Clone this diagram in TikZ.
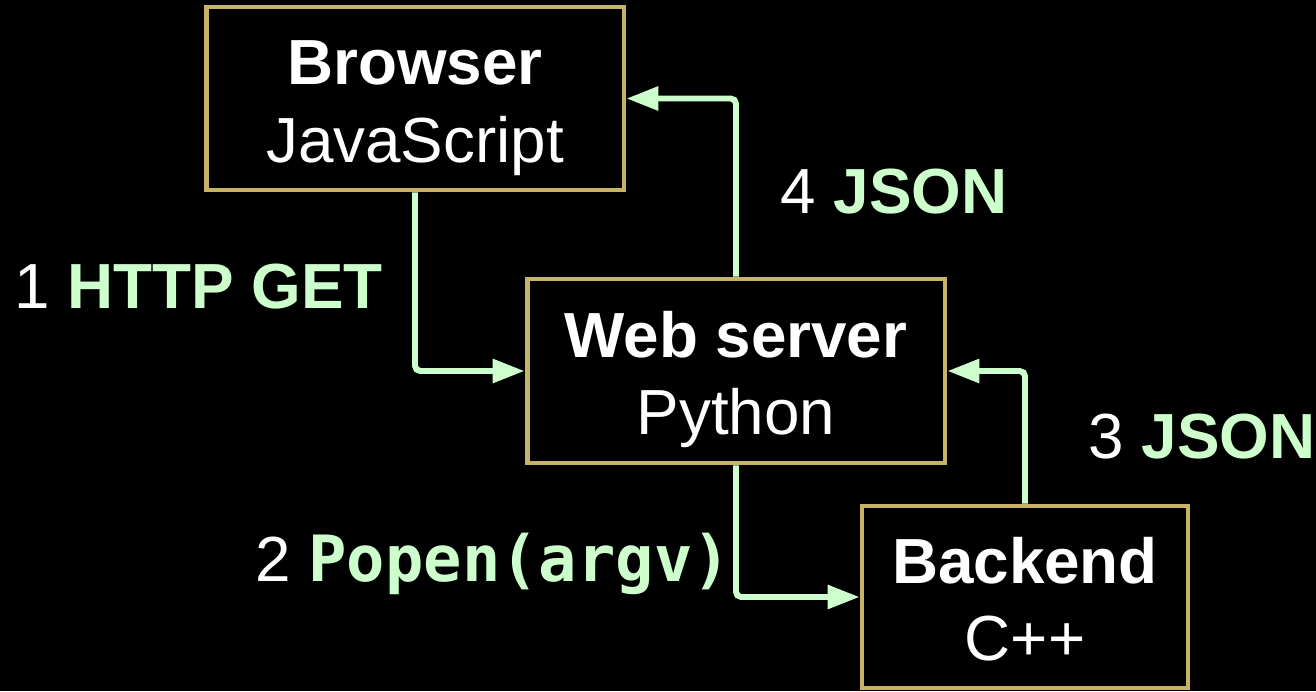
\documentclass[tikz,border=0pt]{standalone}
\usepackage{fontspec}
\setmainfont{Liberation Sans}
\setmonofont{DejaVu Sans Mono}
\usetikzlibrary{arrows.meta}
\definecolor{boxgold}{RGB}{200,178,100}
\definecolor{flowgreen}{RGB}{204,255,204}

\begin{document}
\begin{tikzpicture}[x=0.02cm, y=-0.02cm,
    every node/.style={font=\fontsize{36.3}{44}\selectfont, text=white},
    tier/.style={draw=boxgold, fill=black, line width=2.8pt, align=center, inner sep=0pt,
      text height=80.4pt, text depth=8pt},
    flow/.style={draw=flowgreen, line width=3.4pt, rounded corners=3pt,
      -{Triangle[length=0.64cm, width=0.46cm]}},
    step label/.style={anchor=base west, inner sep=0pt}]
  \fill[black] (0,0) rectangle (1316,691);
  \useasboundingbox (0,0) rectangle (1316,691);
  % the three tiers
  \node[tier, minimum width=8.36cm, minimum height=3.66cm] (browser) at (415,98.5) {\textbf{Browser}\\JavaScript};
  \node[tier, minimum width=8.36cm, minimum height=3.68cm] (web) at (736,371) {\textbf{Web server}\\Python};
  \node[tier, minimum width=6.52cm, minimum height=3.64cm] (backend) at (1025,597) {\textbf{Backend}\\C++};
  % request / response flow
  \draw[flow] (browser.south) |- (web.west);
  \draw[flow] (web.south) |- (backend.west);
  \draw[flow] (backend.north) |- (web.east);
  \draw[flow] (web.north) |- (browser.east);
  \node[step label] (lblget) at (14,308) {1 \textcolor{flowgreen}{\textbf{HTTP GET}}};
  \node[step label] (lblpopen) at (255,581) {2 \textcolor{flowgreen}{\ttfamily\bfseries Popen(argv)}};
  \node[step label] (lbljsonb) at (1088,458) {3 \textcolor{flowgreen}{\textbf{JSON}}};
  \node[step label] (lbljsonw) at (780,213) {4 \textcolor{flowgreen}{\textbf{JSON}}};
\end{tikzpicture}
\end{document}
